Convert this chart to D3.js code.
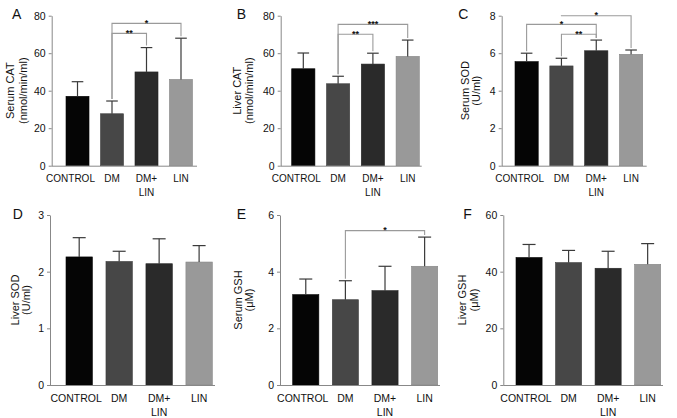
<!DOCTYPE html>
<html><head><meta charset="utf-8">
<script src="https://cdn.jsdelivr.net/npm/d3@7"></script>
<style>body{margin:0;background:#fff}svg{display:block}text{font-family:"Liberation Sans",Arial,sans-serif;fill:#111}</style>
</head><body><svg id="c" width="677" height="418"></svg>
<script>
// ---- data ----
const categories = ["CONTROL", "DM", "DM+LIN", "LIN"];
const serumCAT = [37.0, 27.7, 50.0, 46.0];
const serumCATErr = [7.8, 6.8, 13.0, 22.0];
const liverCAT = [51.7, 43.7, 54.2, 58.3];
const liverCATErr = [8.4, 4.0, 5.8, 8.7];
const serumSOD = [5.55, 5.32, 6.13, 5.94];
const serumSODErr = [0.45, 0.41, 0.57, 0.23];
const liverSOD = [2.26, 2.18, 2.14, 2.17];
const liverSODErr = [0.34, 0.18, 0.44, 0.29];
const serumGSH = [3.19, 3.01, 3.33, 4.19];
const serumGSHErr = [0.55, 0.67, 0.86, 1.03];
const liverGSH = [45.0, 43.2, 41.2, 42.6];
const liverGSHErr = [4.6, 4.3, 6.0, 7.3];
const ticksCAT = [0, 20, 40, 60, 80];
const ticksSerumSOD = [0, 2, 4, 6, 8];
const ticksLiverSOD = [0, 1, 2, 3];
const ticksSerumGSH = [0, 2, 4, 6];
const ticksLiverGSH = [0, 20, 40, 60];
// significance brackets: [fromIndex, toIndex, bracket level (data units), label]
const sigA = [[1, 2, 70.6, "**"], [1, 3, 75.9, "*"]];
const sigB = [[1, 2, 70.1, "**"], [1, 3, 75.4, "***"]];
const sigC = [[1, 2, 7.01, "**"], [0, 2, 7.54, "*"], [1, 3, 8.0, "*"]];
const sigD = [];
const sigE = [[1, 3, 5.45, "*"]];
const sigF = [];

const barColors = ["#050505", "#474747", "#2a2a2a", "#999999"];

const svg = d3.select("#c");
svg.append("rect").attr("width", 677).attr("height", 418).attr("fill", "#fff");

function panel(o) {
  const g = svg.append("g");
  const y = d3.scaleLinear().domain([0, o.ticks[o.ticks.length - 1]]).range([o.yb, o.yt]);
  const x = d3.scaleBand().domain(categories).range([o.b0, o.b1]).paddingInner(o.pad).paddingOuter(0);
  // bars
  g.selectAll("rect.bar").data(o.values).join("rect")
    .attr("x", (d, i) => x(categories[i])).attr("width", x.bandwidth())
    .attr("y", d => y(d)).attr("height", d => y(0) - y(d))
    .attr("fill", (d, i) => barColors[i]).attr("stroke", (d, i) => d3.color(barColors[i]).darker(0.4)).attr("stroke-width", 0.6);
  // error bars
  const cx = i => x(categories[i]) + x.bandwidth() / 2;
  o.values.forEach((v, i) => {
    const t = y(v + o.err[i]);
    g.append("line").attr("x1", cx(i)).attr("x2", cx(i)).attr("y1", y(v)).attr("y2", t).attr("stroke", "#3a3a3a").attr("stroke-width", 1.2);
    g.append("line").attr("x1", cx(i) - o.cap).attr("x2", cx(i) + o.cap).attr("y1", t).attr("y2", t).attr("stroke", "#3a3a3a").attr("stroke-width", 1.2);
  });
  // axes
  const ax = g.append("g").attr("transform", `translate(${o.ax},0)`)
    .call(d3.axisLeft(y).tickValues(o.ticks).tickFormat(d3.format("d")).tickSize(3).tickPadding(3).tickSizeOuter(0));
  ax.select(".domain").attr("stroke", "#888");
  ax.selectAll(".tick line").attr("stroke", "#888");
  ax.selectAll(".tick text").attr("font-size", 10.5).attr("fill", "#111").style("font-family", '"Liberation Sans",Arial,sans-serif');
  g.append("line").attr("x1", o.ax).attr("x2", o.xe).attr("y1", o.yb + 0.5).attr("y2", o.yb + 0.5).attr("stroke", "#888");
  // category labels
  categories.forEach((c, i) => {
    const parts = c === "DM+LIN" ? ["DM+", "LIN"] : [c];
    parts.forEach((p, k) => {
      g.append("text").attr("x", cx(i) + (i === 0 ? o.ctrlShift : 0)).attr("y", o.yb + o.lab1 + k * o.lab2)
        .attr("text-anchor", "middle").attr("font-size", o.catFs).text(p);
    });
  });
  // y title
  o.title.forEach((t, k) => {
    g.append("text").attr("transform", `translate(${o.ax + o.titleX[k]},${(o.yt + o.yb) / 2}) rotate(-90)`)
      .attr("dy", "0.35em").attr("text-anchor", "middle").attr("font-size", 11).text(t);
  });
  // panel letter
  g.append("text").attr("x", o.lx).attr("y", o.ly).attr("font-size", 14).text(o.letter);
  // significance brackets
  o.sig.forEach(([a, b, lvl, lab]) => {
    const yl = y(lvl);
    // a leg stops where a lower bracket crosses it (above that bracket's label if it sits there)
    const legEnd = idx => {
      let end = y(o.values[idx] + o.err[idx]) - 2;
      o.sig.forEach(([a2, b2, lvl2]) => {
        if (lvl2 < lvl && a2 < idx && b2 > idx) {
          const mid = (cx(a2) + cx(b2)) / 2;
          const stop = Math.abs(mid - cx(idx)) < 5 ? y(lvl2) - 9 : y(lvl2);
          end = Math.min(end, stop);
        }
      });
      return end;
    };
    g.append("path").attr("d", `M${cx(a)},${legEnd(a)}V${yl}H${cx(b)}V${legEnd(b)}`)
      .attr("fill", "none").attr("stroke", "#9a9a9a").attr("stroke-width", 1.1);
    g.append("text").attr("x", (cx(a) + cx(b)) / 2).attr("y", yl + 2.5).attr("text-anchor", "middle")
      .attr("font-size", 9).attr("font-weight", "bold").text(lab);
  });
}

const topCfg = {yt: 15.7, yb: 165.7, pad: 0.333, cap: 5.8, lab1: 16.5, lab2: 14, catFs: 10, ctrlShift: -7};
const botCfg = {yt: 215, yb: 385, pad: 0.34, cap: 6.5, lab1: 17, lab2: 13.5, catFs: 10.5, ctrlShift: -3};

panel({...topCfg, letter: "A", lx: 12, ly: 18.5, ax: 51.7, xe: 197, b0: 66, b1: 192.5, ticks: ticksCAT, values: serumCAT, err: serumCATErr, sig: sigA, title: ["Serum CAT", "(nmol/min/ml)"], titleX: [-41.7, -28.7]});
panel({...topCfg, letter: "B", lx: 236.7, ly: 18.5, ax: 280.7, xe: 421.7, b0: 291.7, b1: 419.3, ticks: ticksCAT, values: liverCAT, err: liverCATErr, sig: sigB, title: ["Liver CAT", "(nmol/min/ml)"], titleX: [-44, -31.7]});
panel({...topCfg, letter: "C", lx: 458.3, ly: 18.5, ax: 501.7, xe: 646.7, b0: 515, b1: 642.7, ticks: ticksSerumSOD, values: serumSOD, err: serumSODErr, sig: sigC, title: ["Serum SOD", "(U/ml)"], titleX: [-36.7, -25.7]});
panel({...botCfg, letter: "D", lx: 12.7, ly: 219, ax: 50, xe: 215, b0: 66, b1: 212.3, ticks: ticksLiverSOD, values: liverSOD, err: liverSODErr, sig: sigD, title: ["Liver SOD", "(U/ml)"], titleX: [-35, -24]});
panel({...botCfg, letter: "E", lx: 236.7, ly: 219, ax: 280, xe: 440, b0: 292.7, b1: 437.7, ticks: ticksSerumGSH, values: serumGSH, err: serumGSHErr, sig: sigE, title: ["Serum GSH", "(μM)"], titleX: [-41.7, -31]});
panel({...botCfg, letter: "F", lx: 463.3, ly: 219, ax: 503.3, xe: 663, b0: 516, b1: 660.7, ticks: ticksLiverGSH, values: liverGSH, err: liverGSHErr, sig: sigF, title: ["Liver GSH", "(μM)"], titleX: [-41, -29]});
</script></body></html>
